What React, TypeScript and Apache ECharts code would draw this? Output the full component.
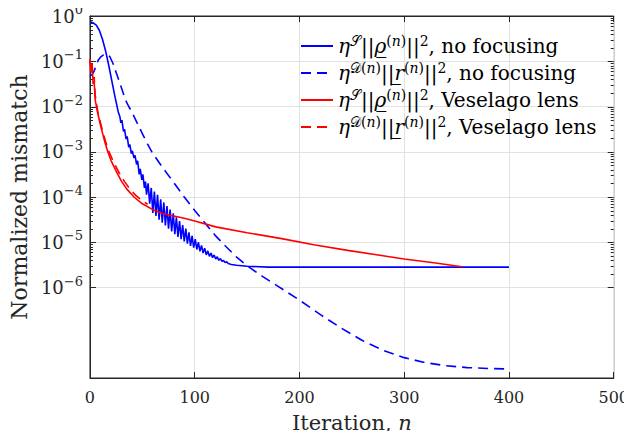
import React, { useEffect, useRef } from "react";
import * as echarts from "echarts";

const SERIF = "DejaVu Serif";
const AXIS = "#262626";
const GRID = "#e1e1e1";
const BLUE = "#0000ff";
const RED = "#ff0000";

// x axis
const xMin = 0;
const xMax = 500;
const xStep = 100;

// y axis: decades (log10) shown with labels, and full extent
const yLabelExponents = [-6, -5, -4, -3, -2, -1, 0];
const yMinExp = -8;
const yMaxExp = 0;
const minorMultipliers = [2, 3, 4, 5, 6, 7, 8, 9];

// Series, as [iteration n, log10(value)]
const blueSolidLog: [number, number][] = [
  [0, -0.13], [3, -0.15], [6, -0.2], [9, -0.32], [12, -0.52], [15, -0.78], [18, -1.1],
  [21, -1.45], [24, -1.8], [27, -2.12], [28.5, -2.22], [29.5, -2.36], [30.5, -2.3],
  [32, -2.55], [33, -2.5], [34.5, -2.72], [35.5, -2.66], [37, -2.9], [38, -2.84],
  [39.5, -3.04], [40.5, -2.98], [42, -3.14], [43, -3.08], [44.5, -3.28], [45.5, -3.2],
  [47, -3.5], [48, -3.38], [49.5, -3.62], [50.5, -3.5], [52, -3.8], [53, -3.66],
  [54, -3.95], [55.5, -3.7], [57, -4.15], [58.5, -3.8], [60, -4.35], [61.5, -3.88],
  [63, -4.42], [64.5, -3.95], [66, -4.5], [67.5, -4.05], [69, -4.57], [70.5, -4.12],
  [72, -4.63], [73.5, -4.2], [75, -4.7], [76.5, -4.28], [78, -4.76], [79.5, -4.36],
  [81, -4.82], [82.5, -4.45], [84, -4.88], [85.5, -4.53], [87, -4.93], [88.5, -4.62],
  [90, -4.98], [91.5, -4.7], [93, -5.03], [94.5, -4.78], [96, -5.08], [97.5, -4.86],
  [99, -5.12], [100.5, -4.93], [102, -5.16], [103.5, -5.0], [105, -5.2], [106.5, -5.07],
  [108, -5.24], [109.5, -5.13], [111, -5.28], [112.5, -5.19], [114, -5.31], [115.5, -5.24],
  [117, -5.34], [118.5, -5.28], [120, -5.37], [121.5, -5.32], [123, -5.4], [124.5, -5.36],
  [126, -5.42], [127.5, -5.4], [129, -5.45], [130.5, -5.43], [132, -5.47], [135, -5.49],
  [140, -5.51], [150, -5.53], [170, -5.55], [200, -5.55], [300, -5.55], [400, -5.55],
];

const blueDashedLog: [number, number][] = [
  [0, -1.32], [2, -1.3], [4, -1.22], [6, -1.08], [8, -0.97], [10, -0.91], [13, -0.86],
  [16, -0.84], [19, -0.9], [22, -1.05], [25, -1.25], [28, -1.45], [31, -1.65], [34, -1.86],
  [37, -2.0], [40, -2.12], [45, -2.36], [50, -2.6], [55, -2.83], [60, -3.04], [70, -3.37],
  [80, -3.68], [90, -4.0], [100, -4.3], [110, -4.58], [120, -4.86], [130, -5.1],
  [140, -5.33], [150, -5.52], [165, -5.76], [180, -5.98], [200, -6.28], [220, -6.6],
  [240, -6.9], [260, -7.17], [280, -7.39], [300, -7.55], [320, -7.66], [340, -7.73],
  [360, -7.77], [380, -7.79], [400, -7.8],
];

const redSolidLog: [number, number][] = [
  [0, -0.95], [1, -1.25], [2, -1.1], [3, -1.5], [4, -1.45], [5, -1.86], [7, -2.1],
  [9, -2.31], [11, -2.5], [14, -2.77], [17, -3.0], [20, -3.19], [25, -3.43], [30, -3.65],
  [35, -3.82], [42, -4.0], [50, -4.15], [60, -4.28], [70, -4.37], [80, -4.42], [90, -4.47],
  [100, -4.53], [120, -4.66], [150, -4.79], [183, -4.92], [215, -5.06], [246, -5.18],
  [275, -5.28], [300, -5.37], [330, -5.46], [355, -5.54],
];

const redDashedLog: [number, number][] = [
  [0, -0.95], [1, -1.2], [2, -1.05], [3, -1.4], [4, -1.35], [5, -1.75], [7.5, -2.12],
  [10, -2.36], [12.5, -2.58], [15, -2.78], [18.5, -3.02], [22, -3.2], [28, -3.47],
  [33, -3.66], [39, -3.85], [44, -3.97], [50, -4.08], [55, -4.16],
];

const seriesNames = [
  "ηS||ρ(n)||², no focusing",
  "ηD(n)||r(n)||², no focusing",
  "ηS||ρ(n)||², Veselago lens",
  "ηD(n)||r(n)||², Veselago lens",
];

const legendRichText: Record<string, string> = {
  [seriesNames[0]]: "{it|η}{sup|𝒮}{t|||}{it|ρ̲}{sup|(}{supi|n}{sup|)}{t|||}{sup|2}{t|, no focusing}",
  [seriesNames[1]]: "{it|η}{sup|𝒟(}{supi|n}{sup|)}{t|||}{it|r̲}{sup|(}{supi|n}{sup|)}{t|||}{sup|2}{t|, no focusing}",
  [seriesNames[2]]: "{it|η}{sup|𝒮}{t|||}{it|ρ̲}{sup|(}{supi|n}{sup|)}{t|||}{sup|2}{t|, Veselago lens}",
  [seriesNames[3]]: "{it|η}{sup|𝒟(}{supi|n}{sup|)}{t|||}{it|r̲}{sup|(}{supi|n}{sup|)}{t|||}{sup|2}{t|, Veselago lens}",
};

const toValues = (pts: [number, number][]) => pts.map(([n, e]) => [n, Math.pow(10, e)]);

export default function App() {
  const ref = useRef<HTMLDivElement>(null);

  useEffect(() => {
    if (!ref.current) return;
    const chart = echarts.init(ref.current, undefined, { renderer: "svg" });

    const yTickData: number[][] = [];
    yLabelExponents.forEach((e) => {
      yTickData.push([0, Math.pow(10, e), 6]);
      if (e < 0) minorMultipliers.forEach((m) => yTickData.push([0, m * Math.pow(10, e), 3]));
    });

    const gridColors: string[] = [];
    for (let e = yMinExp; e <= yMaxExp; e++) {
      gridColors.push(e < yLabelExponents[0] ? "rgba(0,0,0,0)" : GRID);
    }

    const lineSeries = (name: string, pts: [number, number][], color: string, dashed: boolean) => ({
      type: "line",
      name,
      data: toValues(pts),
      symbol: "none",
      showSymbol: false,
      smooth: false,
      clip: true,
      lineStyle: { color, width: 1.6, type: dashed ? [10, 6] : "solid" },
      itemStyle: { color },
    });

    const FS = 20;
    const richLegend = {
      t: { fontFamily: SERIF, fontSize: FS, lineHeight: 24, color: "#000" },
      it: { fontFamily: SERIF, fontSize: FS, lineHeight: 24, fontStyle: "italic", color: "#000" },
      sup: { fontFamily: SERIF, fontSize: 14, lineHeight: 14, verticalAlign: "top", color: "#000" },
      supi: { fontFamily: SERIF, fontSize: 14, lineHeight: 14, verticalAlign: "top", fontStyle: "italic", color: "#000" },
    };

    chart.setOption({
      animation: false,
      backgroundColor: "#ffffff",
      textStyle: { fontFamily: SERIF },
      grid: {
        left: 84,
        top: 16,
        right: 14,
        bottom: 61,
        show: true,
        borderColor: AXIS,
        borderWidth: 1,
        backgroundColor: "transparent",
      },
      legend: {
        data: seriesNames,
        orient: "vertical",
        left: 300,
        top: 34,
        itemWidth: 32,
        itemHeight: 12,
        itemGap: 5,
        padding: 0,
        itemStyle: { opacity: 0 },
        formatter: (name: string) => legendRichText[name] || name,
        textStyle: { fontFamily: SERIF, fontSize: FS, color: "#000", rich: richLegend },
      },
      xAxis: [
        {
          type: "value",
          min: xMin,
          max: xMax,
          interval: xStep,
          position: "bottom",
          name: "Iteration, {it|n}",
          nameLocation: "middle",
          nameGap: 34,
          nameTextStyle: {
            fontFamily: SERIF,
            fontSize: 21,
            color: "#262626",
            rich: {
              it: { fontFamily: SERIF, fontSize: 21, fontStyle: "italic", color: "#262626" },
            },
          },
          axisLine: { show: true, lineStyle: { color: AXIS, width: 1 } },
          axisTick: { show: true, inside: true, length: 6, lineStyle: { color: AXIS } },
          axisLabel: { fontFamily: SERIF, fontSize: 16, color: "#262626", margin: 11 },
          splitLine: { show: true, lineStyle: { color: GRID, width: 1 } },
        },
        {
          type: "value",
          min: xMin,
          max: xMax,
          interval: xStep,
          position: "top",
          axisLine: { show: true, lineStyle: { color: AXIS, width: 1 } },
          axisTick: { show: true, inside: true, length: 6, lineStyle: { color: AXIS } },
          axisLabel: { show: false },
          splitLine: { show: false },
        },
      ],
      yAxis: [
        {
          type: "log",
          logBase: 10,
          min: Math.pow(10, yMinExp),
          max: Math.pow(10, yMaxExp),
          name: "Normalized mismatch",
          nameLocation: "middle",
          nameGap: 56,
          nameTextStyle: { fontFamily: SERIF, fontSize: 22, color: "#262626" },
          axisLine: { show: true, lineStyle: { color: AXIS, width: 1 } },
          axisTick: { show: false },
          minorTick: { show: false },
          axisLabel: {
            margin: 7,
            formatter: (v: number) => {
              const e = Math.round(Math.log10(v));
              if (e < yLabelExponents[0]) return "";
              const s = e < 0 ? "−" + Math.abs(e) : String(e);
              return "{b|10}{s|" + s + "}";
            },
            rich: {
              b: { fontFamily: SERIF, fontSize: 18, lineHeight: 26, color: "#262626" },
              s: { fontFamily: SERIF, fontSize: 13, lineHeight: 15, verticalAlign: "top", color: "#262626" },
            },
          },
          splitLine: { show: true, lineStyle: { color: gridColors, width: 1 } },
        },
      ],
      series: [
        lineSeries(seriesNames[0], blueSolidLog, BLUE, false),
        lineSeries(seriesNames[1], blueDashedLog, BLUE, true),
        lineSeries(seriesNames[2], redSolidLog, RED, false),
        lineSeries(seriesNames[3], redDashedLog, RED, true),
        {
          type: "custom",
          name: "yTicks",
          silent: true,
          clip: false,
          data: yTickData,
          encode: { x: 0, y: 1 },
          renderItem: (params: any, api: any) => {
            const v = api.value(1);
            const len = api.value(2);
            const p = api.coord([0, v]);
            const cs = params.coordSys;
            const y = Math.round(p[1]) + 0.5;
            return {
              type: "group",
              children: [
                { type: "line", shape: { x1: cs.x, y1: y, x2: cs.x + len, y2: y }, style: { stroke: AXIS, lineWidth: 1 } },
                {
                  type: "line",
                  shape: { x1: cs.x + cs.width - len, y1: y, x2: cs.x + cs.width, y2: y },
                  style: { stroke: AXIS, lineWidth: 1 },
                },
              ],
            };
          },
        },
      ],
    });

    return () => chart.dispose();
  }, []);

  return <div ref={ref} style={{ width: 632, height: 439, margin: -8 }} />;
}
